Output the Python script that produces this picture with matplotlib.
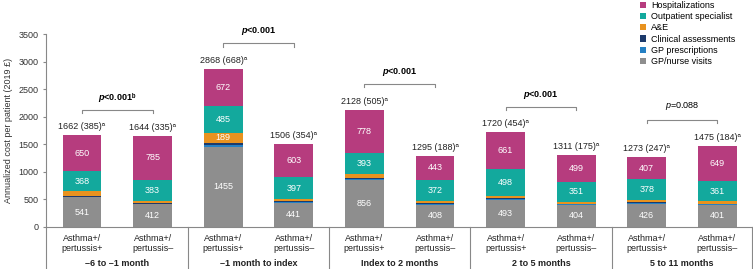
import numpy as np
import matplotlib
matplotlib.use("Agg")
import matplotlib.pyplot as plt
import matplotlib.transforms as mtransforms

plt.rcParams['font.family'] = ['Liberation Sans', 'DejaVu Sans']
plt.rcParams['mathtext.fontset'] = 'custom'
plt.rcParams['mathtext.rm'] = 'Liberation Sans'
plt.rcParams['mathtext.it'] = 'Liberation Sans:italic'
plt.rcParams['mathtext.bf'] = 'Liberation Sans:bold'
try:
    plt.rcParams['mathtext.bfit'] = 'Liberation Sans:italic:bold'
except KeyError:
    pass

# データ
periods = ["\u20136 to \u20131 month", "\u20131 month to index", "Index to 2 months",
           "2 to 5 months", "5 to 11 months"]
groups = ["Asthma+/\npertussis+", "Asthma+/\npertussis\u2013"]
gp_nurse = [541, 412, 1455, 441, 856, 408, 493, 404, 426, 401]
gp_presc = [10, 12, 32, 13, 16, 14, 13, 11, 12, 12]
clinical = [15, 12, 35, 12, 15, 13, 13, 11, 12, 12]
ae = [78, 40, 189, 40, 70, 45, 42, 35, 38, 40]
outpatient = [368, 383, 485, 397, 393, 372, 498, 351, 378, 361]
hospital = [650, 785, 672, 603, 778, 443, 661, 499, 407, 649]
totals = [1662, 1644, 2868, 1506, 2128, 1295, 1720, 1311, 1273, 1475]
sds = [385, 335, 668, 354, 505, 188, 454, 175, 247, 184]
p_values = ["<0.001", "<0.001", "<0.001", "<0.001", "=0.088"]
p_notes = ["\u1d47", "", "", "", ""]

series = [("GP/nurse visits", gp_nurse, "#8e8e8e"),
          ("GP prescriptions", gp_presc, "#2480c4"),
          ("Clinical assessments", clinical, "#1d3a6b"),
          ("A&E", ae, "#e8921f"),
          ("Outpatient specialist", outpatient, "#13a99d"),
          ("Hospitalizations", hospital, "#b63c7e")]
labelled = {"GP/nurse visits", "Outpatient specialist", "Hospitalizations"}

fig = plt.figure(figsize=(7.53, 2.69), dpi=100)
ax = fig.add_axes([46 / 753, 42 / 269, 706 / 753, 193 / 269])

x = np.arange(len(totals))
bottom = np.zeros(len(totals))
handles = {}
for name, vals, col in series:
    vals = np.array(vals, dtype=float)
    b = ax.bar(x, vals, 0.55, bottom=bottom, color=col, label=name)
    handles[name] = b
    for i, v in enumerate(vals):
        if name in labelled or v > 150:
            ax.text(x[i], bottom[i] + v / 2, f"{int(v)}", ha="center", va="center",
                    color="white", fontsize=6.5)
    bottom += vals

# 合計ラベル
for i, (t, s) in enumerate(zip(totals, sds)):
    ax.text(x[i], t + 70, f"{t} ({s})\u1d43", ha="center", va="bottom",
            fontsize=6.5, color="#222222")

# p値のブラケット
for g in range(len(periods)):
    i0, i1 = 2 * g, 2 * g + 1
    yb = max(totals[i0], totals[i1]) + 460
    ax.plot([x[i0], x[i0], x[i1], x[i1]], [yb - 55, yb, yb, yb - 55],
            color="#888888", lw=0.8, clip_on=False)
    if p_values[g].startswith("<"):
        txt = r"$\mathbfit{p}$" + p_values[g] + p_notes[g]
        ax.text((x[i0] + x[i1]) / 2, yb + 110, txt, ha="center", va="bottom",
                fontsize=6.5, fontweight="bold", clip_on=False)
    else:
        txt = r"$\mathit{p}$" + p_values[g]
        ax.text((x[i0] + x[i1]) / 2, yb + 150, txt, ha="center", va="bottom",
                fontsize=6.5, clip_on=False)

# 軸設定
ax.set_xlim(-0.51, 9.49)
ax.set_ylim(0, 3500)
ax.set_yticks(np.arange(0, 3501, 500))
ax.tick_params(axis="y", labelsize=6.5, length=2, color="#888888", labelcolor="#333333")
ax.set_xticks(x)
ax.set_xticklabels(groups * len(periods), fontsize=6.5, color="#222222")
ax.tick_params(axis="x", length=0, pad=5)
for sp in ["top", "right"]:
    ax.spines[sp].set_visible(False)
ax.spines["left"].set_color("#888888")
ax.spines["bottom"].set_color("#888888")
ax.spines["left"].set_linewidth(0.8)
ax.spines["bottom"].set_linewidth(0.8)
ax.set_ylabel("Annualized cost per patient (2019 \u00a3)", fontsize=6.5, color="#333333")

trans = mtransforms.blended_transform_factory(ax.transData, ax.transAxes)
for sep in [-0.51, 1.5, 3.5, 5.5, 7.5, 9.49]:
    ax.plot([sep, sep], [0, -0.22], color="#888888", lw=0.8, transform=trans, clip_on=False)
for g, name in enumerate(periods):
    ax.text(2 * g + 0.5, -0.19, name, ha="center", va="center", fontsize=6.5,
            fontweight="bold", transform=trans, color="#222222")

order = ["Hospitalizations", "Outpatient specialist", "A&E", "Clinical assessments",
         "GP prescriptions", "GP/nurse visits"]
fig.legend([handles[n] for n in order], order, loc="upper left",
           bbox_to_anchor=(636 / 753, 1.01), frameon=False, fontsize=6.5,
           handlelength=0.7, handleheight=0.7, handletextpad=0.6, labelspacing=0.25,
           borderaxespad=0)

fig.savefig("out.png", dpi=100)
